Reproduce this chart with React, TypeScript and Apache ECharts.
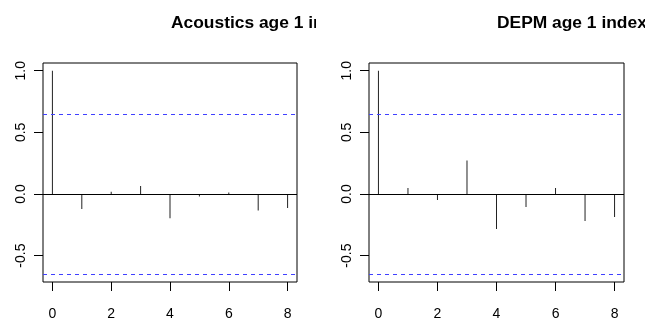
import React, { useEffect, useRef } from "react";
import * as echarts from "echarts";

const lags = [0, 1, 2, 3, 4, 5, 6, 7, 8];
const acousticsAcf = [1.0, -0.121, 0.018, 0.065, -0.197, -0.02, 0.013, -0.133, -0.113];
const depmAcf = [1.0, 0.049, -0.049, 0.272, -0.283, -0.105, 0.049, -0.218, -0.186];
const ciBound = 0.653;
const xRange = [-0.32, 8.32];
const yRange = [-0.7138, 1.0626];
const xTicks = [0, 2, 4, 6, 8];
const yTicks = [-0.5, 0, 0.5, 1.0];
const titles = ["Acoustics age 1 index", "DEPM age 1 index"];

const FONT = "'Liberation Sans', Arial, Helvetica, sans-serif";

export default function App() {
  const ref = useRef<HTMLDivElement>(null);
  useEffect(() => {
    if (!ref.current) return;
    const chart = echarts.init(ref.current, null, { renderer: "svg" });
    const grids = [
      { left: 43, top: 63, width: 254, height: 219 },
      { left: 369, top: 63, width: 255, height: 219 },
    ];
    const series: any[] = [];
    const xAxes: any[] = [];
    const yAxes: any[] = [];
    [acousticsAcf, depmAcf].forEach((vals, i) => {
      xAxes.push({
        type: "value",
        gridIndex: i,
        min: xRange[0],
        max: xRange[1],
        position: "bottom",
        splitLine: { show: false },
        axisLine: { show: false, onZero: false },
        axisTick: { show: true, length: 9, customValues: xTicks, lineStyle: { color: "#000", width: 1 } },
        axisLabel: {
          customValues: xTicks,
          margin: 24,
          fontSize: 14,
          color: "#000",
          fontFamily: FONT,
        },
      });
      yAxes.push({
        type: "value",
        gridIndex: i,
        min: yRange[0],
        max: yRange[1],
        position: "left",
        splitLine: { show: false },
        axisLine: { show: false, onZero: false },
        axisTick: { show: true, length: 9, customValues: yTicks, lineStyle: { color: "#000", width: 1 } },
        axisLabel: {
          customValues: yTicks,
          rotate: 90,
          margin: 16,
          fontSize: 14,
          color: "#000",
          fontFamily: FONT,
          formatter: (v: number) => v.toFixed(1),
        },
      });
      series.push({
        type: "bar",
        xAxisIndex: i,
        yAxisIndex: i,
        barWidth: 1,
        itemStyle: { color: "#222" },
        data: lags.map((l, k) => [l, vals[k]]),
        markLine: {
          silent: true,
          symbol: "none",
          label: { show: false },
          lineStyle: { color: "#000", width: 1, type: "solid" },
          data: [{ yAxis: 0 }],
        },
      });
      series.push({
        type: "line",
        xAxisIndex: i,
        yAxisIndex: i,
        data: [],
        markLine: {
          silent: true,
          symbol: ["none", "none"],
          label: { show: false },
          lineStyle: { color: "#4040ff", width: 1, type: [4, 4], opacity: 1 },
          data: [{ yAxis: ciBound }, { yAxis: -ciBound }],
        },
      });
    });
    chart.setOption({
      animation: false,
      grid: grids.map((g) => ({ ...g, show: true, borderColor: "#000", borderWidth: 1, backgroundColor: "transparent" })),
      xAxis: xAxes,
      yAxis: yAxes,
      series,
      graphic: [
        {
          type: "text",
          left: 171,
          top: 13,
          z: 10,
          style: { text: titles[0], font: `bold 17.4px ${FONT}`, fill: "#000" },
        },
        {
          type: "rect",
          z: 11,
          shape: { x: 316, y: 0, width: 175, height: 45 },
          style: { fill: "#fff" },
        },
        {
          type: "text",
          left: 497,
          top: 13,
          z: 10,
          style: { text: titles[1], font: `bold 17.4px ${FONT}`, fill: "#000" },
        },
      ],
    });
    return () => chart.dispose();
  }, []);
  return <div ref={ref} style={{ position: "fixed", left: 0, top: 0, width: 645, height: 322 }} />;
}
